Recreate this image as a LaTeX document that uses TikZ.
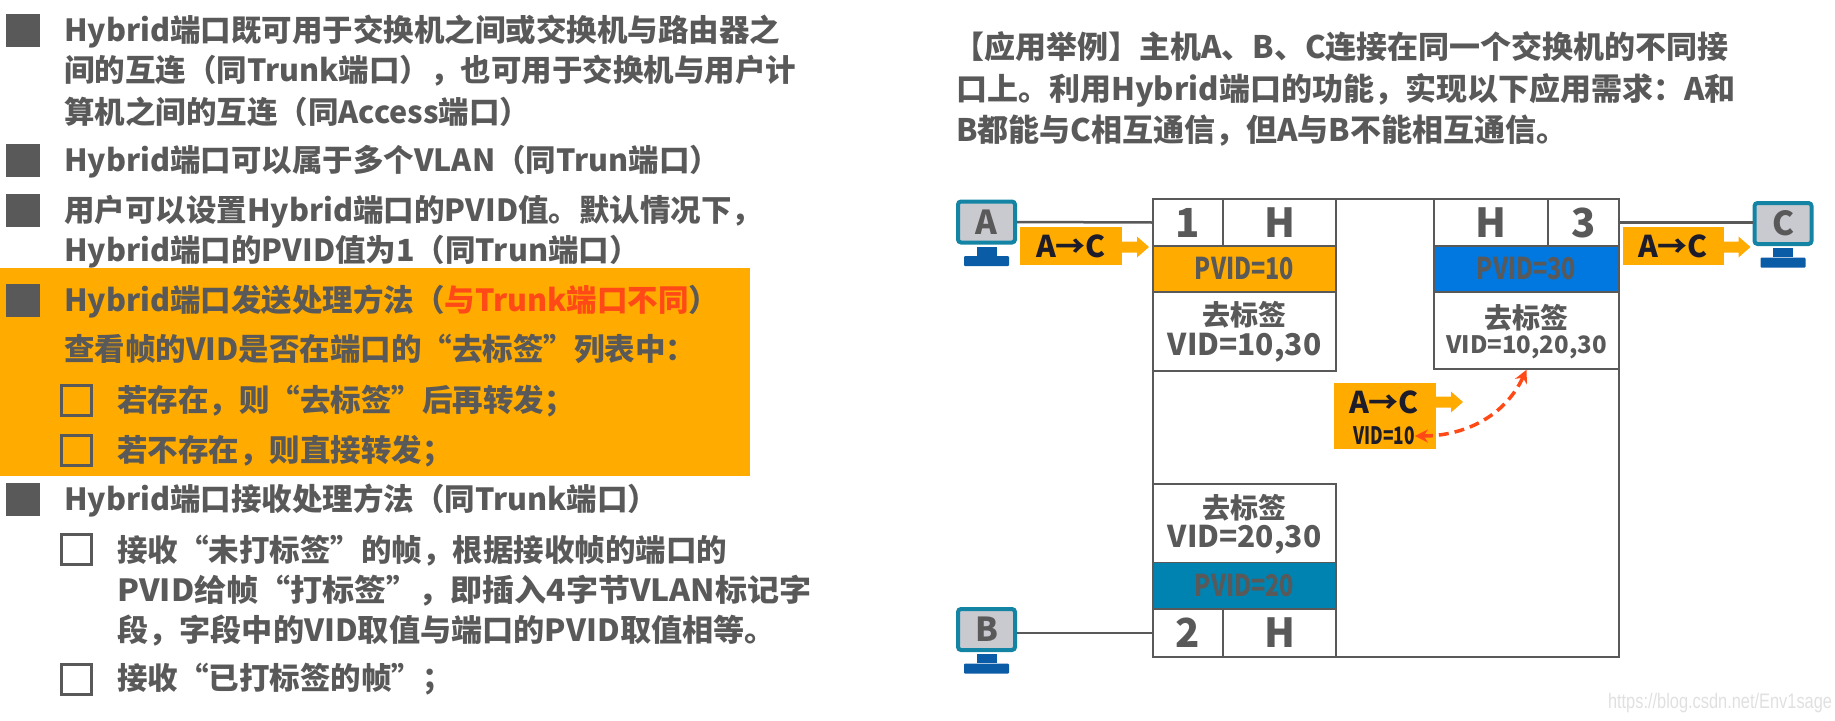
\documentclass[tikz,border=0pt]{standalone}
\usepackage{fontspec}
\usepackage{xcolor}
\usepackage{graphicx,tikz}
\usetikzlibrary{positioning,arrows.meta}
\setmainfont{Noto Sans CJK SC}
\newfontfamily\markfont{Liberation Sans}

\definecolor{textgrey}{HTML}{595959}
\definecolor{tagorange}{HTML}{FFAB00}
\definecolor{alertred}{HTML}{FF4A17}
\definecolor{pvidblue}{HTML}{0078E0}
\definecolor{pvidteal}{HTML}{0083B0}
\definecolor{screengrey}{HTML}{C9C9D0}
\definecolor{frameteal}{HTML}{1484A4}
\definecolor{standblue}{HTML}{0B5CA6}
\definecolor{tagink}{HTML}{1C1C2A}

\newcommand{\fsz}[1]{\fontsize{#1}{#1}\selectfont}
\newcommand{\squeeze}[2]{\scalebox{#1}[1]{#2}}

\tikzset{
  linetext/.style={anchor=base west, inner sep=0pt, yshift=-11.5pt, text=textgrey, font=\fsz{30.5}\bfseries},
  headtext/.style={linetext, font=\fsz{31}\bfseries},
  fullbullet/.style={rectangle, fill=textgrey, minimum width=34, minimum height=33, inner sep=0pt},
  openbullet/.style={rectangle, draw=textgrey, line width=3pt, minimum width=30, minimum height=30, inner sep=0pt},
  cellbox/.style={rectangle, draw=textgrey, line width=1.5pt, fill=white, inner sep=0pt, text=textgrey},
  celltext/.style={inner sep=0pt, text=textgrey, font=\fsz{30}\bfseries},
  monitorbox/.style={rectangle, rounded corners=3pt, draw=frameteal, line width=4pt, fill=screengrey,
    minimum width=57, minimum height=41, inner sep=0pt, text=textgrey, font=\fsz{33}\bfseries},
  monitorneck/.style={rectangle, fill=standblue, minimum width=20, minimum height=9, inner sep=0pt},
  monitorbase/.style={rectangle, fill=standblue, rounded corners=1pt, minimum width=45, minimum height=10, inner sep=0pt},
  tagbox/.style={rectangle, fill=tagorange, inner sep=0pt, text=tagink, font=\fsz{30}\bfseries},
  link/.style={draw=textgrey, line width=2.5pt}
}

\begin{document}
\begin{tikzpicture}[x=1pt,y=-1pt]
\useasboundingbox (0,0) rectangle (1835,720);

% orange band behind the send rules
\node[rectangle, fill=tagorange, minimum width=750, minimum height=208, inner sep=0pt] (band) at (375,372) {};

% bullets
\foreach \name/\ypos in {fa/30, fb/160, fc/210, fd/300, fe/499} {
    \node[fullbullet] (\name) at (23,\ypos) {};
}
\foreach \name/\ypos in {oa/400, ob/450, oc/549, od/679} {
    \node[openbullet] (\name) at (76,\ypos) {};
}

% left column, one node per printed line
\foreach \name/\xpos/\ypos/\words in {
    la/64/30/{Hybrid端口既可用于交换机之间或交换机与路由器之},
    lb/64/70/{间的互连（同Trunk端口），也可用于交换机与用户计},
    lc/64/112/{算机之间的互连（同Access端口）},
    ld/64/160/{Hybrid端口可以属于多个VLAN（同Trun端口）},
    le/64/210/{用户可以设置Hybrid端口的PVID值。默认情况下，},
    lf/64/250/{Hybrid端口的PVID值为1（同Trun端口）},
    lg/64/300/{Hybrid端口发送处理方法（\textcolor{alertred}{与Trunk端口不同}）},
    lh/64/349/{查看帧的VID是否在端口的“去标签”列表中：},
    li/117/400/{若存在，则“去标签”后再转发；},
    lj/117/450/{若不存在，则直接转发；},
    lk/64/499/{Hybrid端口接收处理方法（同Trunk端口）},
    ll/117/550/{接收“未打标签”的帧，根据接收帧的端口的},
    lm/117/590/{\squeeze{1.05}{PVID给帧“打标签”，即插入4字节VLAN标记字}},
    ln/117/630/{\squeeze{1.022}{段，字段中的VID取值与端口的PVID取值相等。}},
    lo/117/678/{接收“已打标签的帧”；}} {
    \node[linetext] (\name) at (\xpos,\ypos) {\words};
}

% right column heading
\foreach \name/\xpos/\ypos/\words in {
    ra/953/47/{【应用举例】主机A、B、C连接在同一个交换机的不同接},
    rb/956/89/{口上。利用Hybrid端口的功能，实现以下应用需求：A和},
    rc/956/130/{B都能与C相互通信，但A与B不能相互通信。}} {
    \node[headtext] (\name) at (\xpos,\ypos) {\words};
}

% switch outline
\node[cellbox, minimum width=466, minimum height=458] (switch) at (1386,428) {};

% port 1
\node[cellbox, minimum width=70, minimum height=47, font=\fsz{40}\bfseries] (pa) at (1188,222.5) {1};
\node[cellbox, minimum width=113, minimum height=47, font=\fsz{40}\bfseries] (ha) at (1279.5,222.5) {H};
\node[cellbox, fill=tagorange, minimum width=183, minimum height=46, font=\fsz{30}\bfseries] (pvida) at (1244.5,269) {\squeeze{.78}{PVID=10}};
\node[cellbox, minimum width=183, minimum height=79] (taga) at (1244.5,331.5) {};
\node[celltext, font=\fsz{28}\bfseries] (worda) at (1244.5,315) {去标签};
\node[celltext] (vida) at (1244.5,348) {VID=10,30};

% port 3
\node[cellbox, minimum width=114, minimum height=47, font=\fsz{40}\bfseries] (hc) at (1491,222.5) {H};
\node[cellbox, minimum width=71, minimum height=47, font=\fsz{40}\bfseries] (pc) at (1583.5,222.5) {3};
\node[cellbox, fill=pvidblue, minimum width=185, minimum height=46, font=\fsz{30}\bfseries] (pvidc) at (1526.5,269) {\squeeze{.78}{PVID=30}};
\node[cellbox, minimum width=185, minimum height=77] (tagc) at (1526.5,330.5) {};
\node[celltext, font=\fsz{28}\bfseries] (wordc) at (1526.5,318) {去标签};
\node[celltext, font=\fsz{24}\bfseries] (vidc) at (1526.5,347) {VID=10,20,30};

% port 2
\node[cellbox, minimum width=183, minimum height=79] (tagb) at (1244.5,523.5) {};
\node[celltext, font=\fsz{28}\bfseries] (wordb) at (1244.5,508) {去标签};
\node[celltext] (vidb) at (1244.5,540) {VID=20,30};
\node[cellbox, fill=pvidteal, minimum width=183, minimum height=47, font=\fsz{30}\bfseries] (pvidb) at (1244.5,586) {\squeeze{.78}{PVID=20}};
\node[cellbox, minimum width=70, minimum height=48, font=\fsz{40}\bfseries] (pb) at (1188,633) {2};
\node[cellbox, minimum width=113, minimum height=48, font=\fsz{40}\bfseries] (hb) at (1279.5,633) {H};

% hosts
\foreach \name/\xpos/\ypos in {A/986.5/222, B/986.5/629.5, C/1783/223.5} {
    \node[monitorbox] (mon\name) at (\xpos,\ypos) {\name};
    \node[monitorneck, below=2pt of mon\name] (neck\name) {};
    \node[monitorbase, below=0pt of neck\name] (base\name) {};
}

% links to the ports
\draw[link] (monA.east) -- (pa.west);
\draw[link] (monB.east |- pb.west) -- (pb.west);
\draw[link] (pc.east) -- (pc.east -| monC.west);

% frame tags
\node[tagbox, minimum width=102, minimum height=38] (tagA) at (1071,246) {A→C};
\node[tagbox, minimum width=101, minimum height=38] (tagC) at (1673,246) {A→C};
\node[tagbox, minimum width=102, minimum height=66] (tagM) at (1385,416) {};
\node[inner sep=0pt, text=tagink, font=\fsz{30}\bfseries] (labelM) at (1384,402) {A→C};
\node[inner sep=0pt, text=tagink, font=\fsz{24}\bfseries] (vidM) at (1384,436) {\squeeze{.72}{VID=10}};

% small arrows on the tags
\foreach \xpos/\ypos in {1122/247, 1723.5/247, 1436/402} {
    \fill[tagorange] (\xpos,\ypos-5.5) -- ++(15,0) -- ++(0,-5) -- ++(12,10.5) -- ++(-12,10.5) -- ++(0,-5) -- ++(-15,0) -- cycle;
}

% forwarding path
\draw[alertred, line width=3.5pt, dash pattern=on 10pt off 6pt, {Stealth[length=13pt,width=13pt]}-{Stealth[length=13pt,width=13pt]}] (vidM.east) to[out=0, in=-115] (tagc.south);

% watermark
\node[inner sep=0pt, text=black!12, font=\markfont\fsz{21}] (mark) at (1720,703) {\squeeze{.78}{https://blog.csdn.net/Env1sage}};

\end{tikzpicture}
\end{document}
